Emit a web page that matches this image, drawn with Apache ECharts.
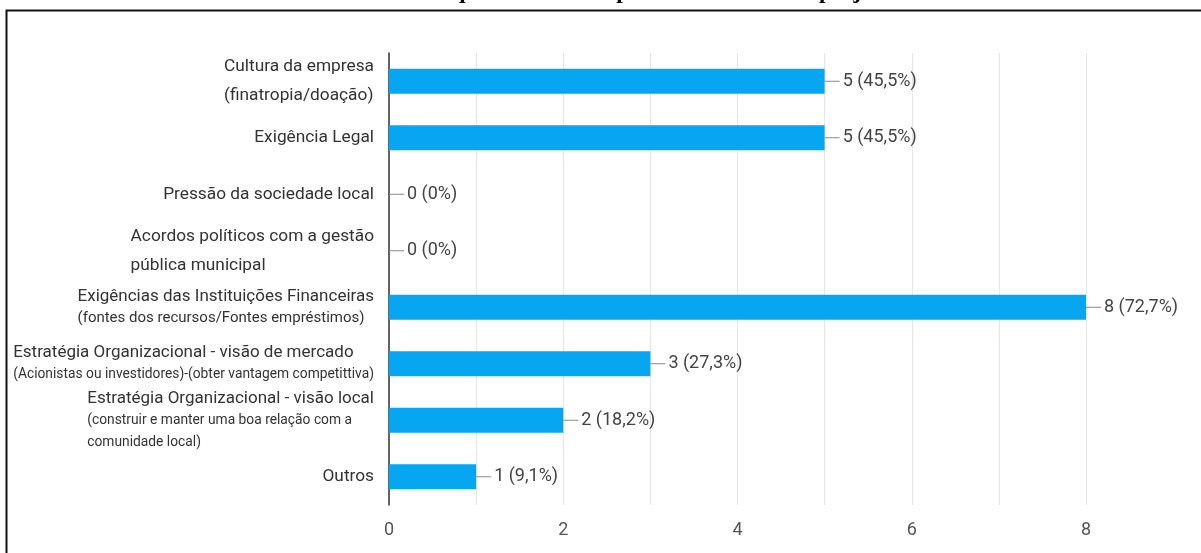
<!DOCTYPE html>
<html>
<head>
<meta charset="utf-8">
<script src="https://cdn.jsdelivr.net/npm/echarts@6/dist/echarts.min.js"></script>
<style>
html,body{margin:0;padding:0;background:#fff;}
#c{width:1201px;height:553px;}
</style>
</head>
<body>
<div id="c"></div>
<script>
const titleText = 'Gráfico 4 – Motivos que levam as empresas a investir em projetos Sociais';
const categories = [
  'Cultura da empresa\n(finatropia/doação)',
  'Exigência Legal',
  'Pressão da sociedade local',
  'Acordos políticos com a gestão\npública municipal',
  'Exigências das Instituições Financeiras\n(fontes dos recursos/Fontes empréstimos)',
  'Estratégia Organizacional - visão de mercado\n(Acionistas ou investidores)-(obter vantagem competittiva)',
  'Estratégia Organizacional - visão local\n(construir e manter uma boa relação com a\ncomunidade local)',
  'Outros'
];
const counts = [5, 5, 0, 0, 8, 3, 2, 1];
const percents = ['45,5%', '45,5%', '0%', '0%', '72,7%', '27,3%', '18,2%', '9,1%'];
const xTicks = [0, 2, 4, 6, 8];

const mainStyle = ['a', 'a', 'a', 'a', 'h', 'h', 'h', 'a'];
const subStyle = ['a', 'a', 'a', 'a', 'b', 'c', 'c', 'a'];

const chart = echarts.init(document.getElementById('c'), null, {renderer: 'canvas'});
chart.setOption({
  animation: false,
  backgroundColor: '#fff',
  graphic: [
    {type: 'text', x: 612, y: -20, silent: true,
      style: {text: titleText, align: 'center', verticalAlign: 'top',
        font: 'bold 23.3px "Liberation Serif", "Times New Roman", serif', fill: '#000'}},
    {type: 'rect', shape: {x: 6.5, y: 10.5, width: 1300, height: 700}, silent: true,
      style: {fill: 'none', stroke: '#111', lineWidth: 2}, z: 100}
  ],
  grid: {left: 389, right: 115, top: 53, bottom: 48, containLabel: false},
  xAxis: {
    type: 'value', min: 0, max: 8, interval: 1,
    axisLine: {show: false}, axisTick: {show: false},
    splitLine: {show: true, lineStyle: {color: '#e6e6e6', width: 1}},
    axisLabel: {
      margin: 16, color: '#555', fontSize: 18, fontFamily: 'Roboto',
      formatter: v => (xTicks.indexOf(v) >= 0 ? String(v) : '')
    }
  },
  yAxis: {
    type: 'category', inverse: true, data: categories,
    axisLine: {show: true, lineStyle: {color: '#333', width: 1.5}},
    axisTick: {show: false},
    axisLabel: {
      margin: 15, color: '#333', fontFamily: 'Roboto', align: 'right',
      formatter: (value, index) => value.split('\n').map((l, i) =>
        '{' + (i === 0 ? mainStyle[index] : subStyle[index]) + '|' + l + '}').join('\n'),
      rich: {
        a: {fontSize: 17.3, lineHeight: 29, color: '#333', fontFamily: 'Roboto', align: 'left'},
        h: {fontSize: 17, lineHeight: 22, color: '#333', fontFamily: 'Roboto', align: 'left'},
        b: {fontSize: 15, lineHeight: 21, color: '#333', fontFamily: 'Roboto', align: 'left'},
        c: {fontSize: 13.8, lineHeight: 22, color: '#333', fontFamily: 'Roboto', align: 'left'}
      }
    }
  },
  series: [{
    type: 'bar', data: counts, barWidth: 25,
    itemStyle: {color: '#06a7f0'},
    label: {
      show: true, position: 'right', distance: 0,
      formatter: p => '{ln|}{t|' + counts[p.dataIndex] + ' (' + percents[p.dataIndex] + ')}',
      rich: {
        ln: {width: 15, height: 1, backgroundColor: '#888'},
        t: {fontSize: 18, color: '#444', fontFamily: 'Roboto', padding: [0, 0, 0, 3]}
      }
    }
  }]
});
</script>
</body>
</html>
